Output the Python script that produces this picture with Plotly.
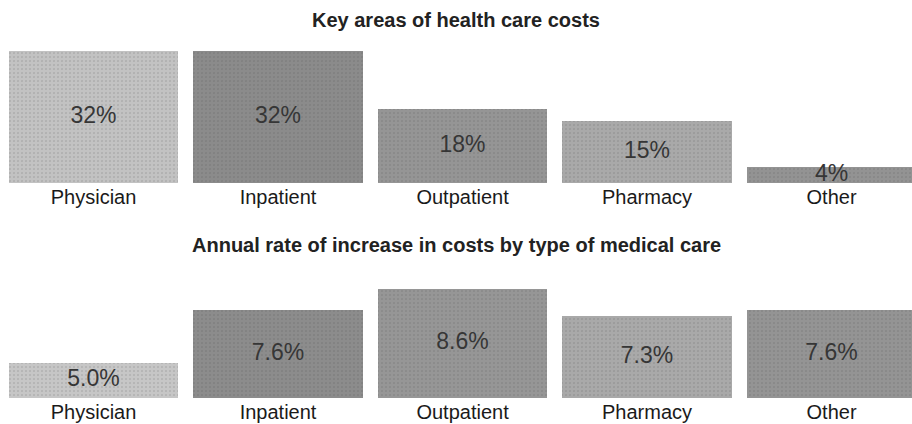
import plotly.graph_objects as go

categories = ["Physician", "Inpatient", "Outpatient", "Pharmacy", "Other"]
cost_share = [32, 32, 18, 15, 4]            # % of health care costs
cost_growth = [5.0, 7.6, 8.6, 7.3, 7.6]     # annual % increase
share_labels = ["32%", "32%", "18%", "15%", "4%"]
growth_labels = ["5.0%", "7.6%", "8.6%", "7.3%", "7.6%"]

top_title = "Key areas of health care costs"
bottom_title = "Annual rate of increase in costs by type of medical care"

top_colors = ["#c2c2c2", "#8b8b8b", "#959595", "#a9a9a9", "#939393"]
bottom_colors = ["#c6c6c6", "#8c8c8c", "#969696", "#a9a9a9", "#949494"]

W, H = 912, 424
FONT = "Liberation Sans, Arial, sans-serif"

growth_base = 3.3
fig = go.Figure()

pat = dict(shape=".", size=4, solidity=0.12, fgcolor="#b4b4b4", fgopacity=0.3)

fig.add_trace(go.Bar(
    x=categories, y=cost_share, marker=dict(color=top_colors, line=dict(width=0), pattern=pat),
    width=0.92, xaxis="x", yaxis="y", hoverinfo="skip", showlegend=False))
fig.add_trace(go.Scatter(
    x=categories, y=[v / 2 for v in cost_share], text=share_labels, mode="text",
    textfont=dict(family=FONT, size=23, color="#363636"),
    xaxis="x", yaxis="y", hoverinfo="skip", showlegend=False))

fig.add_trace(go.Bar(
    x=categories, y=cost_growth, marker=dict(color=bottom_colors, line=dict(width=0), pattern=pat),
    width=0.92, xaxis="x2", yaxis="y2", hoverinfo="skip", showlegend=False))
fig.add_trace(go.Scatter(
    x=categories, y=[(v + growth_base) / 2 for v in cost_growth], text=growth_labels,
    mode="text", textfont=dict(family=FONT, size=23, color="#363636"),
    xaxis="x2", yaxis="y2", hoverinfo="skip", showlegend=False))

xr = [-0.507, 4.436]
xcommon = dict(type="category", range=xr, showgrid=False, zeroline=False, showline=False,
               ticks="", tickfont=dict(family=FONT, size=20, color="#1a1a1a"),
               ticklabelstandoff=0, automargin=False, fixedrange=True)
ycommon = dict(showgrid=False, zeroline=False, showline=False, showticklabels=False, fixedrange=True)

fig.update_layout(
    width=W, height=H, margin=dict(l=0, r=0, t=0, b=0),
    paper_bgcolor="white", plot_bgcolor="white",
    xaxis=dict(domain=[0, 1], anchor="y", **xcommon),
    yaxis=dict(domain=[(H - 183) / H, (H - 51) / H], range=[0, 32], **ycommon),
    xaxis2=dict(domain=[0, 1], anchor="y2", **xcommon),
    yaxis2=dict(domain=[(H - 398) / H, (H - 289) / H], range=[growth_base, 8.6], **ycommon),
    bargap=0,
    annotations=[
        dict(text="<b>" + top_title + "</b>", x=0.5, y=1 - 20 / H, xref="paper", yref="paper",
             xanchor="center", yanchor="middle",
             showarrow=False, font=dict(family=FONT, size=20, color="#222222")),
        dict(text="<b>" + bottom_title + "</b>", x=0.5, y=1 - 245 / H, xref="paper", yref="paper",
             xanchor="center", yanchor="middle",
             showarrow=False, font=dict(family=FONT, size=20, color="#222222")),
    ],
)

fig.write_html("out.html", config={"displayModeBar": False},
               post_script="document.body.style.margin='0';document.body.style.padding='0';")
